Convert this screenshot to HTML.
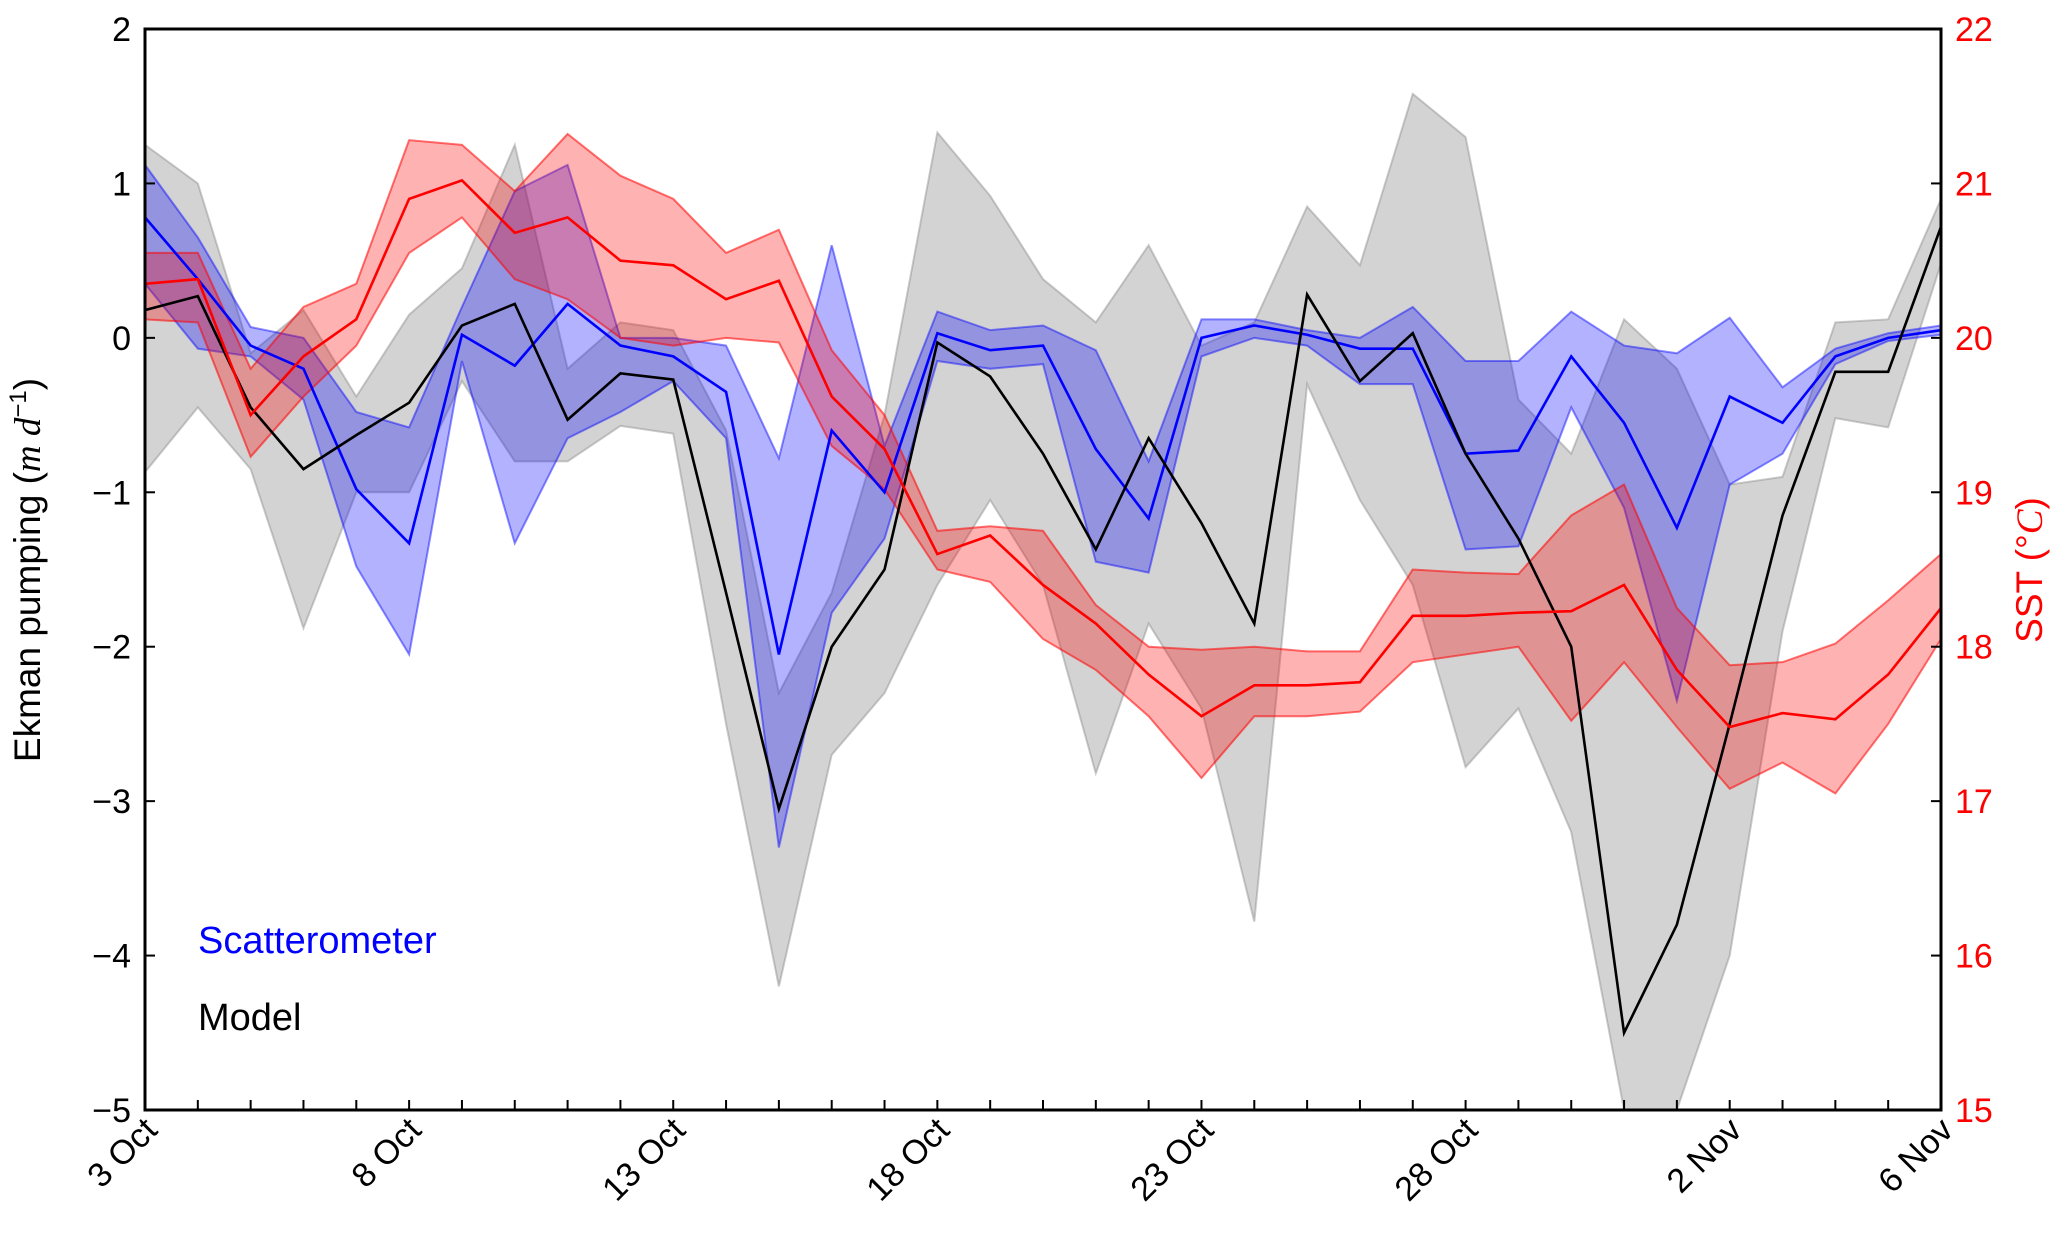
<!DOCTYPE html>
<html><head><meta charset="utf-8"><style>
body{margin:0;background:#fff}
svg{display:block;font-family:"Liberation Sans",sans-serif}
</style></head><body>
<svg id="chart" width="2067" height="1248" viewBox="0 0 2067 1248" xmlns="http://www.w3.org/2000/svg">
<g id="plot"></g>
<g id="axes"></g>
<text x="198" y="953" font-size="38" fill="#0000ff">Scatterometer</text>
<text x="198" y="1030" font-size="38" fill="#000">Model</text>
<text transform="translate(40,570) rotate(-90)" text-anchor="middle" font-size="37">Ekman pumping (<tspan font-family="Liberation Serif" font-style="italic">m d</tspan><tspan font-size="24" dy="-14">−1</tspan><tspan dy="14">)</tspan></text>
<text transform="translate(2042,570) rotate(-90)" text-anchor="middle" font-size="37" fill="#ff0000">SST (°<tspan font-family="Liberation Serif" font-style="italic">C</tspan>)</text>
</svg>
<script>
const days=[0,1,2,3,4,5,6,7,8,9,10,11,12,13,14,15,16,17,18,19,20,21,22,23,24,25,26,27,28,29,30,31,32,33,34];
const modelMean=[0.18,0.27,-0.45,-0.85,-0.63,-0.42,0.08,0.22,-0.53,-0.23,-0.27,-1.65,-3.05,-2.0,-1.5,-0.03,-0.25,-0.75,-1.37,-0.65,-1.2,-1.85,0.28,-0.28,0.03,-0.75,-1.3,-2.0,-4.5,-3.8,-2.5,-1.15,-0.22,-0.22,0.72];
const modelHi=[1.25,1.0,-0.1,0.18,-0.38,0.15,0.45,1.25,-0.2,0.1,0.05,-0.6,-2.3,-1.65,-0.5,1.33,0.92,0.38,0.1,0.6,-0.05,0.1,0.85,0.47,1.58,1.3,-0.4,-0.75,0.12,-0.2,-0.95,-0.9,0.1,0.12,0.9];
const modelLo=[-0.87,-0.45,-0.85,-1.88,-1.0,-1.0,-0.28,-0.8,-0.8,-0.57,-0.62,-2.5,-4.2,-2.7,-2.3,-1.6,-1.05,-1.6,-2.82,-1.85,-2.4,-3.78,-0.3,-1.05,-1.6,-2.78,-2.4,-3.2,-5.0,-5.0,-4.0,-1.9,-0.52,-0.58,0.48];
const scatMean=[0.78,0.38,-0.05,-0.2,-0.98,-1.33,0.02,-0.18,0.22,-0.05,-0.12,-0.35,-2.05,-0.6,-1.0,0.03,-0.08,-0.05,-0.72,-1.17,0.0,0.08,0.02,-0.07,-0.07,-0.75,-0.73,-0.12,-0.55,-1.23,-0.38,-0.55,-0.12,0.0,0.05];
const scatHi=[1.12,0.65,0.07,0.0,-0.48,-0.58,0.2,0.95,1.12,0.0,0.0,-0.05,-0.78,0.6,-0.7,0.17,0.05,0.08,-0.08,-0.8,0.12,0.12,0.05,0.0,0.2,-0.15,-0.15,0.17,-0.05,-0.1,0.13,-0.32,-0.07,0.03,0.08];
const scatLo=[0.35,-0.07,-0.12,-0.4,-1.48,-2.05,-0.15,-1.33,-0.65,-0.48,-0.28,-0.65,-3.3,-1.78,-1.3,-0.15,-0.2,-0.17,-1.45,-1.52,-0.12,0.0,-0.05,-0.3,-0.3,-1.37,-1.35,-0.45,-1.1,-2.35,-0.95,-0.75,-0.17,-0.02,0.02];
const sstMean=[20.35,20.38,19.5,19.88,20.12,20.9,21.02,20.68,20.78,20.5,20.47,20.25,20.37,19.62,19.28,18.6,18.72,18.4,18.15,17.82,17.55,17.75,17.75,17.77,18.2,18.2,18.22,18.23,18.4,17.85,17.48,17.57,17.53,17.82,18.25];
const sstHi=[20.55,20.55,19.8,20.2,20.35,21.28,21.25,20.95,21.32,21.05,20.9,20.55,20.7,19.92,19.5,18.75,18.78,18.75,18.27,18.0,17.98,18.0,17.97,17.97,18.5,18.48,18.47,18.85,19.05,18.25,17.88,17.9,18.02,18.3,18.6];
const sstLo=[20.12,20.1,19.23,19.62,19.95,20.55,20.78,20.38,20.25,20.0,19.95,20.0,19.97,19.3,19.02,18.5,18.42,18.05,17.85,17.55,17.15,17.55,17.55,17.58,17.9,17.95,18.0,17.52,17.9,17.48,17.08,17.25,17.05,17.5,18.05];
const yTicks=[2,1,0,-1,-2,-3,-4,-5];
const yTickLabels=["2","1","0","\u22121","\u22122","\u22123","\u22124","\u22125"];
const sstTicks=[22,21,20,19,18,17,16,15];
const xTickDays=[0,5,10,15,20,25,30,34];
const xTickLabels=["3 Oct","8 Oct","13 Oct","18 Oct","23 Oct","28 Oct","2 Nov","6 Nov"];

const L=145,R=1941,T=29,B=1110;
const x=d=>L+(R-L)*d/34;
const y=v=>T+(B-T)*(2-v)/7;
const y2=v=>T+(B-T)*(22-v)/7;
const NS="http://www.w3.org/2000/svg";
const plot=document.getElementById('plot'),axes=document.getElementById('axes');
function mk(tag,attrs,parent){const e=document.createElementNS(NS,tag);for(const k in attrs)e.setAttribute(k,attrs[k]);parent.appendChild(e);return e;}
const clip=mk('clipPath',{id:'clip'},document.getElementById('chart'));
mk('rect',{x:L,y:T,width:R-L,height:B-T},clip);
plot.setAttribute('clip-path','url(#clip)');
function band(hi,lo,fy,fill,stroke,name){
  const pts=days.map(d=>x(d)+','+fy(hi[d])).concat(days.slice().reverse().map(d=>x(d)+','+fy(lo[d])));
  const p=mk('polygon',{points:pts.join(' '),fill:fill,stroke:stroke,'stroke-width':2},plot);
  
  
}
function line(vals,fy,color,name){
  const p=mk('polyline',{points:days.map(d=>x(d)+','+fy(vals[d])).join(' '),fill:'none',stroke:color,'stroke-width':2.6},plot);
  
  
}
band(modelHi,modelLo,y,'rgba(128,128,128,0.35)','rgba(128,128,128,0.4)','model-spread-band');
band(scatHi,scatLo,y,'rgba(0,0,255,0.3)','rgba(0,0,255,0.45)','scatterometer-spread-band');
band(sstHi,sstLo,y2,'rgba(255,0,0,0.3)','rgba(255,0,0,0.55)','sst-spread-band');
line(scatMean,y,'#0000ff','scatterometer-line');
line(modelMean,y,'#000000','model-line');
line(sstMean,y2,'#ff0000','sst-line');
const frame=mk('rect',{x:L,y:T,width:R-L,height:B-T,fill:'none',stroke:'#000','stroke-width':3},axes);


yTicks.forEach((v,i)=>{
  mk('line',{x1:L,x2:L+10,y1:y(v),y2:y(v),stroke:'#000','stroke-width':2},axes);
  const t=mk('text',{x:L-14,y:y(v)+12,'text-anchor':'end','font-size':34},axes);
  t.textContent=yTickLabels[i];
  
  
});
sstTicks.forEach(v=>{
  mk('line',{x1:R-10,x2:R,y1:y2(v),y2:y2(v),stroke:'#000','stroke-width':2},axes);
  const t=mk('text',{x:R+14,y:y2(v)+12,'font-size':34,fill:'#ff0000'},axes);
  t.textContent=String(v);
  
  
});
days.forEach(d=>{mk('line',{x1:x(d),x2:x(d),y1:B,y2:B-10,stroke:'#000','stroke-width':2},axes);});
xTickDays.forEach((d,i)=>{
  const t=mk('text',{transform:'translate('+(x(d)+14)+','+(B+22)+') rotate(-45)','text-anchor':'end','font-size':34},axes);
  t.textContent=xTickLabels[i];
  
  
});
</script>
</body></html>
